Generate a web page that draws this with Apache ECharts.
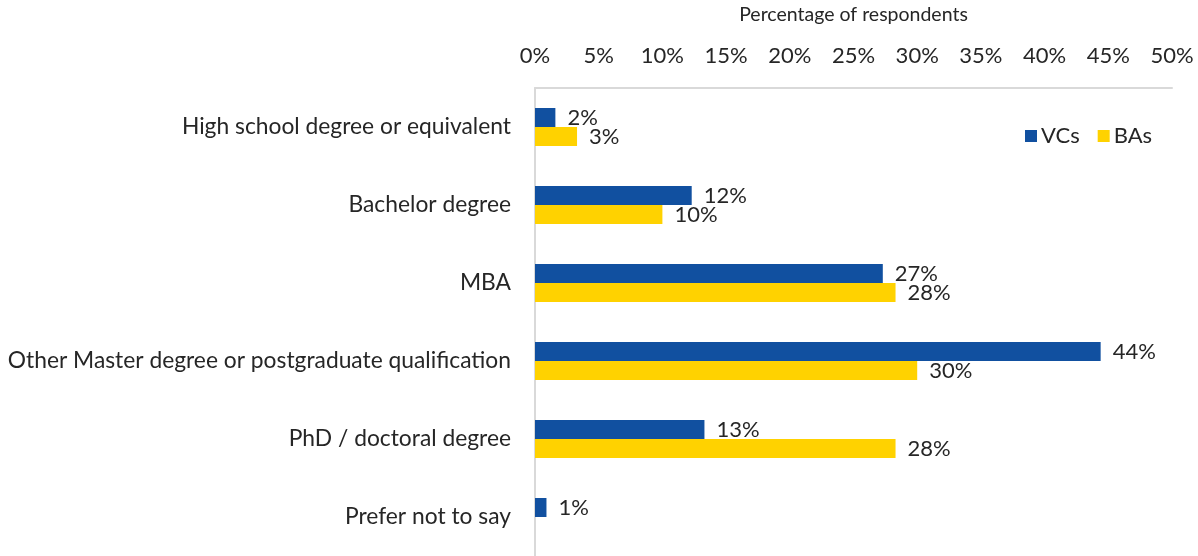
<!DOCTYPE html>
<html lang="en">
<head>
    <meta charset="UTF-8">
    <title>Education of respondents</title>
    <script src="https://cdn.jsdelivr.net/npm/echarts@6.0.0/dist/echarts.min.js"></script>
    <style>
        html, body { margin: 0; padding: 0; background: #fff; }
        #chart { width: 1198px; height: 556px; }
    </style>
</head>
<body>
    <div id="chart"></div>
    <script>
        // data
        const categories = [
            'High school degree or equivalent',
            'Bachelor degree',
            'MBA',
            'Other Master degree or postgraduate qualification',
            'PhD / doctoral degree',
            'Prefer not to say'
        ];
        const vcValues = [1.6, 12.3, 27.3, 44.4, 13.3, 0.9];
        const baValues = [3.3, 10.0, 28.3, 30.0, 28.3, 0];
        const xTicks = { min: 0, max: 50, interval: 5 };

        const FONT = 'Lato, "Open Sans", sans-serif';
        const TEXT = '#262626';
        const chart = echarts.init(document.getElementById('chart'));

        const pctLabel = p => (p.value ? Math.round(p.value) + '%' : '');

        chart.setOption({
            animation: false,
            textStyle: { fontFamily: FONT },
            grid: { left: 535, right: 26, top: 88, bottom: 0, outerBoundsMode: 'none' },
            legend: {
                data: ['VCs', 'BAs'],
                left: 1020,
                top: 120,
                itemWidth: 12,
                itemHeight: 12,
                itemGap: 18,
                icon: 'rect',
                textStyle: { fontSize: 22, color: TEXT, fontFamily: FONT, padding: [0, 0, 0, -1] }
            },
            xAxis: {
                type: 'value',
                position: 'top',
                min: xTicks.min,
                max: xTicks.max,
                interval: xTicks.interval,
                name: 'Percentage of respondents',
                nameLocation: 'middle',
                nameGap: 63,
                nameTextStyle: { fontSize: 19.5, color: TEXT, fontFamily: FONT },
                axisLine: { show: true, lineStyle: { color: '#d9d9d9', width: 2 } },
                axisTick: { show: false },
                splitLine: { show: false },
                axisLabel: {
                    formatter: '{value}%',
                    fontSize: 22,
                    color: TEXT,
                    margin: 21,
                    fontFamily: FONT
                }
            },
            yAxis: {
                type: 'category',
                data: categories,
                inverse: true,
                axisLine: { show: true, lineStyle: { color: '#d9d9d9', width: 2 } },
                axisTick: { show: false },
                axisLabel: { fontSize: 22.8, color: TEXT, margin: 24, fontFamily: FONT }
            },
            series: [
                {
                    name: 'VCs',
                    type: 'bar',
                    data: vcValues,
                    barWidth: 19,
                    barGap: '0%',
                    itemStyle: { color: '#1150a0' },
                    label: {
                        show: true,
                        position: 'right',
                        distance: 12,
                        formatter: pctLabel,
                        fontSize: 22,
                        color: TEXT,
                        fontFamily: FONT
                    }
                },
                {
                    name: 'BAs',
                    type: 'bar',
                    data: baValues,
                    barWidth: 19,
                    barGap: '0%',
                    itemStyle: { color: '#ffd200' },
                    label: {
                        show: true,
                        position: 'right',
                        distance: 12,
                        formatter: pctLabel,
                        fontSize: 22,
                        color: TEXT,
                        fontFamily: FONT
                    }
                }
            ]
        });
    </script>
</body>
</html>
